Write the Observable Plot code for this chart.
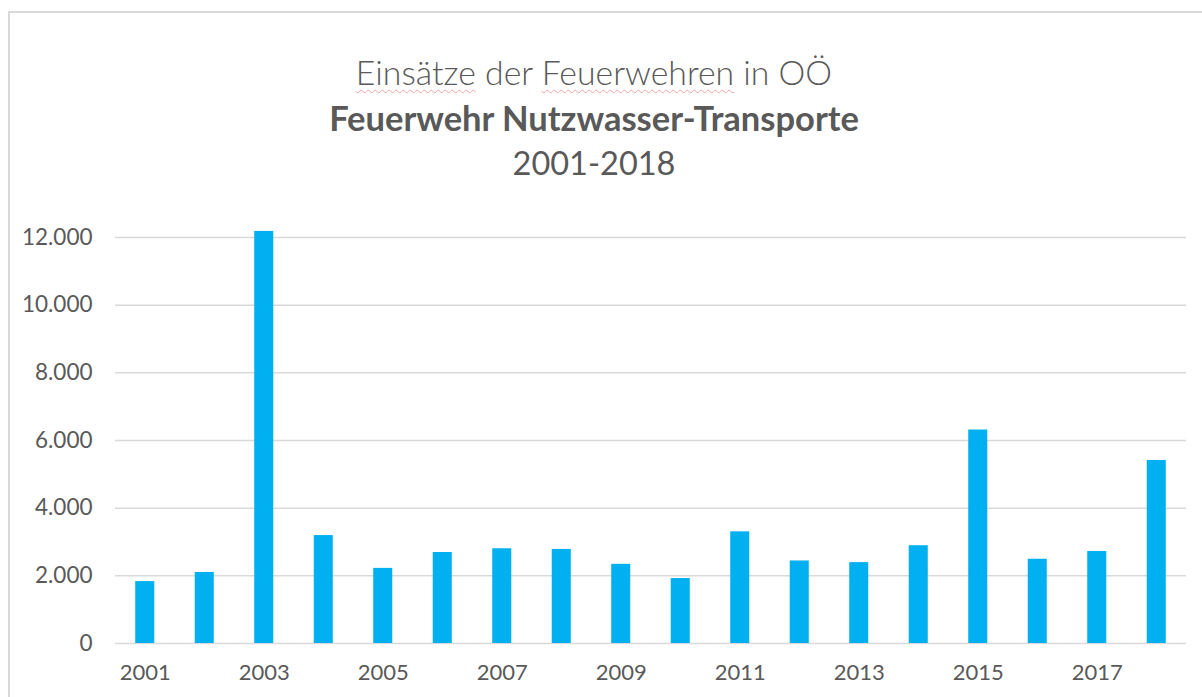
<!DOCTYPE html>
<html><head><meta charset="utf-8">
<script src="https://cdn.jsdelivr.net/npm/d3@7"></script>
<script src="https://cdn.jsdelivr.net/npm/@observablehq/plot@0.6"></script>
<style>
body{margin:0;background:#fff;}
#wrap{position:relative;width:1202px;height:697px;overflow:hidden;font-family:Lato,"Open Sans",sans-serif;color:#595959;}
#frame{position:absolute;left:8px;top:11px;width:1300px;height:800px;border:2px solid #d9d9d9;}
.t{position:absolute;left:-7px;width:1202px;text-align:center;line-height:40px;white-space:nowrap;}
.sp{text-decoration:underline wavy #f2a3a3;text-decoration-thickness:1px;text-underline-offset:4px;}
#chart{position:absolute;left:0;top:200px;}
</style></head><body>
<div id="wrap">
<div id="frame"></div>
<div class="t" style="top:52px;font-size:33.8px;font-weight:300"><span class="sp">Einsätze</span> der <span class="sp">Feuerwehren</span> in OÖ</div>
<div class="t" style="top:98px;font-size:34.5px;font-weight:700">Feuerwehr Nutzwasser-Transporte</div>
<div class="t" style="top:143px;font-size:32.5px;font-weight:400">2001-2018</div>
<div id="chart"></div>
</div>
<script>
const years = [2001,2002,2003,2004,2005,2006,2007,2008,2009,2010,2011,2012,2013,2014,2015,2016,2017,2018];
const values = [1830,2100,12180,3190,2220,2690,2800,2780,2340,1920,3300,2440,2390,2890,6310,2490,2720,5410];
const yTicks = [0,2000,4000,6000,8000,10000,12000];
const xTickLabels = [2001,2003,2005,2007,2009,2011,2013,2015,2017];

const data = years.map((y,i)=>({year:y, value:values[i]}));
const de = d3.formatLocale({decimal:",", thousands:".", grouping:[3], currency:["","€"]});
const fmt = de.format(",");

const chart = Plot.plot({
  width:1202, height:497,
  marginTop:37, marginBottom:54, marginLeft:115, marginRight:16,
  style:{fontFamily:"Lato, 'Open Sans', sans-serif", color:"#595959", background:"transparent"},
  x:{type:"band", domain:years, paddingInner:0.68, paddingOuter:0.34, round:false, axis:null},
  y:{domain:[0,12000], axis:null},
  marks:[
    Plot.ruleY(yTicks,{stroke:"#d9d9d9", strokeWidth:1.5}),
    Plot.barY(data,{x:"year", y:"value", fill:"#00b0f0"}),
    Plot.axisY({ticks:yTicks, tickSize:0, tickPadding:23, tickFormat:fmt, fontSize:22.5, label:null, fill:"#595959"}),
    Plot.axisX({ticks:xTickLabels, tickSize:0, tickPadding:21, tickFormat:d=>String(d), fontSize:22, label:null, fill:"#595959"})
  ]
});
document.getElementById("chart").appendChild(chart);
</script>
</body></html>
